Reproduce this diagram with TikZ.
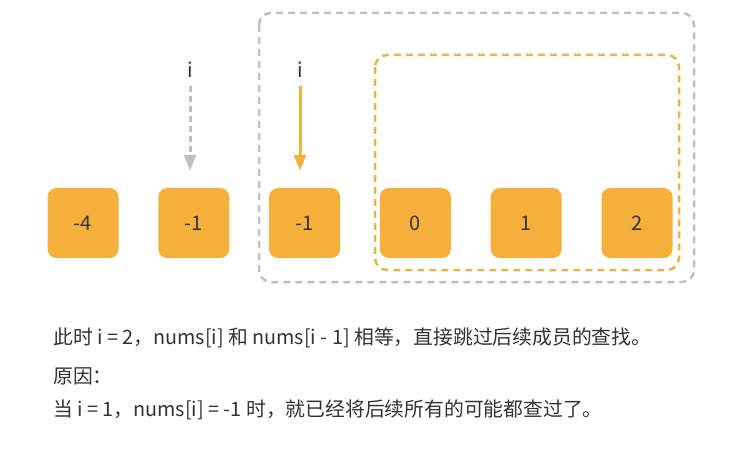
\documentclass[tikz,border=0pt]{standalone}
\usepackage{fontspec}
\setmainfont{Noto Sans CJK SC}
\usetikzlibrary{arrows.meta,positioning}
\definecolor{cellorange}{HTML}{F4B03A}
\definecolor{lineorange}{HTML}{E8B54A}
\definecolor{linegray}{HTML}{C0C0C0}
\definecolor{textgray}{HTML}{333333}

\begin{document}
\begin{tikzpicture}[x=1pt,y=-1pt,
  cell/.style={fill=cellorange,rounded corners=9pt,minimum width=71pt,minimum height=70pt,
    inner sep=0pt,font=\fontsize{20}{20}\selectfont,text=textgray},
  pointer/.style={inner sep=0pt,font=\fontsize{20}{20}\selectfont,text=textgray},
  line/.style={anchor=west,inner sep=0pt,font=\fontsize{19.8}{20}\selectfont,text=textgray}]
  \useasboundingbox (0,0) rectangle (731,449);
  % the array
  \foreach \v [count=\k] in {-4,-1,-1,0,1,2}
    \node[cell] (b\k) at ({83+110.8*(\k-1)},223) {\v};
  % pointers
  \node[pointer] (p1) at (190,70) {i};
  \node[pointer] (p2) at (300,70) {i};
  \draw[linegray,line width=3pt,dash pattern=on 6pt off 4pt,
    -{Triangle[length=16pt,width=12pt]},shorten <=8pt,shorten >=17pt] (p1) -- (p1 |- b2.north);
  \draw[cellorange,line width=3pt,
    -{Triangle[length=16pt,width=12pt]},shorten <=8pt,shorten >=17pt] (p2) -- (p2 |- b3.north);
  % skipped ranges
  \draw[linegray,line width=2.5pt,dash pattern=on 7pt off 5pt,rounded corners=12pt]
    (259,13) rectangle (694,282);
  \draw[lineorange,line width=2.5pt,dash pattern=on 7pt off 5pt,rounded corners=12pt]
    (375,55) rectangle (679,270);
  % explanation
  \node[line] (t1) at (53,338) {此时 i = 2，nums[i] 和 nums[i - 1] 相等，直接跳过后续成员的查找。};
  \node[line] (t2) at (53,376) {原因：};
  \node[line] (t3) at (53,410) {当 i = 1，nums[i] = -1 时，就已经将后续所有的可能都查过了。};
\end{tikzpicture}
\end{document}
